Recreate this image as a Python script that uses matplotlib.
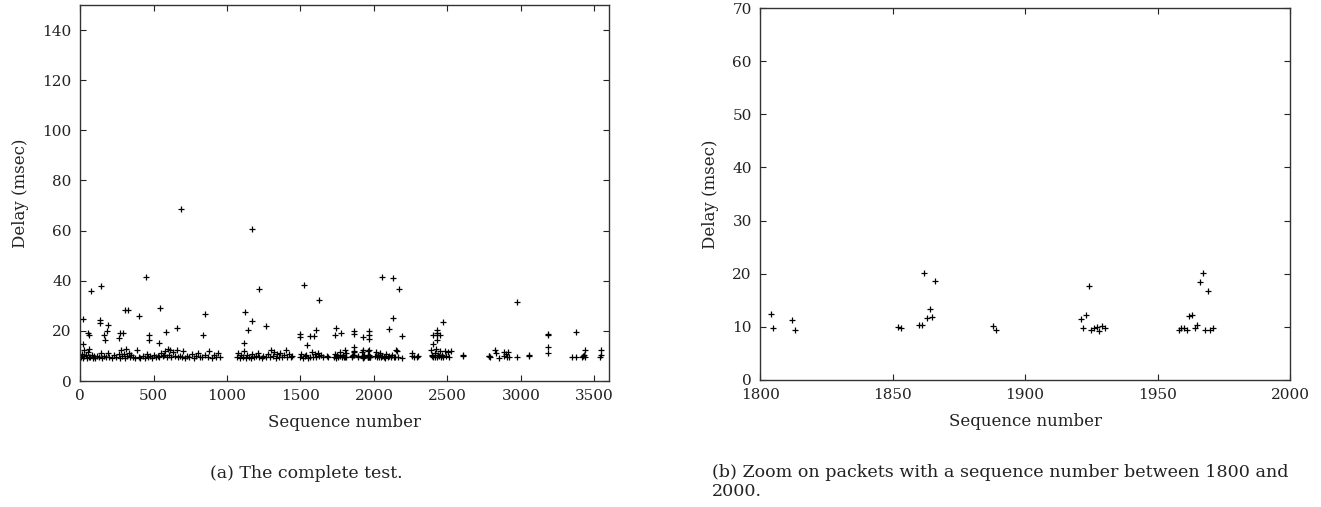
import matplotlib
matplotlib.use("Agg")
import matplotlib.pyplot as plt
import numpy as np

plt.rcParams['font.family'] = ['DejaVu Serif']

# packets forming the low band (~9-13 msec), outside 1800-2000
band_seq = [5, 12, 18, 25, 30, 38, 45, 52, 58, 64, 70, 78, 86, 95, 104, 118, 130, 142, 150, 165,
            178, 190, 200, 215, 232, 248, 262, 270, 280, 288, 296, 305, 312, 320, 330, 338, 348, 360,
            372, 385, 398, 410, 425, 440, 455, 465, 478, 490, 502, 515, 528, 540, 552, 562, 572, 580,
            590, 598, 606, 614, 622, 632, 645, 658, 668, 680, 692, 700, 712, 728, 742, 760, 775, 790,
            802, 818, 832, 850, 868, 880, 895, 910, 925, 940, 955,
            1065, 1075, 1085, 1098, 1108, 1118, 1128, 1138, 1150, 1160, 1172, 1182, 1195, 1208, 1220,
            1235, 1248, 1262, 1278, 1290, 1302, 1312, 1322, 1332, 1342, 1352, 1362, 1372, 1385, 1398,
            1408, 1420, 1432, 1445,
            1495, 1505, 1515, 1528, 1540, 1552, 1565, 1578, 1588, 1598, 1608, 1618, 1628, 1640, 1655,
            1677, 1690,
            1728, 1735, 1742, 1750, 1758, 1766, 1772, 1780, 1788, 1795,
            2005, 2012, 2020, 2028, 2035, 2042, 2050, 2058, 2066, 2075, 2085, 2095, 2105, 2115, 2125,
            2135, 2142, 2158, 2165, 2191, 2257, 2262, 2270, 2293, 2300,
            2385, 2392, 2398, 2405, 2412, 2418, 2425, 2432, 2438, 2444, 2450, 2456, 2464, 2472, 2480,
            2490, 2504, 2510, 2522,
            2605, 2607, 2780, 2785, 2792, 2823, 2830, 2849, 2882, 2887, 2895, 2905, 2914, 2916, 2973,
            3055, 3058, 3347, 3376, 3415, 3422, 3430, 3438, 3541, 3546, 3548]
band_delay = [9.6, 10.8, 9.2, 12.4, 9.9, 10.5, 9.3, 11.6, 9.7, 12.8, 9.4, 10.2, 9.1, 9.8, 9.3, 10.1, 9.5, 11.2, 9.2, 9.9,
              9.4, 11.1, 9.6, 9.3, 10.4, 9.5, 10.9, 9.2, 12.3, 9.8, 10.6, 9.3, 12.6, 9.9, 11.0, 9.4, 10.2, 9.5,
              9.2, 12.4, 9.6, 9.1, 9.8, 9.3, 10.7, 9.5, 9.9, 9.2, 10.4, 9.6, 10.1, 9.4, 11.2, 9.8, 10.5, 12.1,
              9.6, 12.8, 10.3, 12.5, 9.5, 11.4, 9.9, 12.2, 9.4, 10.1, 9.6, 11.8, 9.3, 9.9, 9.5, 10.6, 9.2, 10.1,
              11.3, 9.6, 9.4, 10.2, 9.5, 11.9, 9.3, 10.4, 9.6, 11.2, 9.7,
              9.5, 11.1, 9.2, 10.4, 9.7, 12.0, 9.3, 10.2, 9.6, 9.1, 10.8, 9.4, 9.9, 11.3, 9.5,
              9.2, 10.1, 9.6, 10.9, 9.4, 12.2, 9.8, 11.5, 9.3, 10.6, 9.5, 11.0, 9.7, 10.2, 12.5,
              9.4, 10.8, 9.6, 9.9,
              9.6, 10.8, 9.3, 9.9, 10.4, 9.2, 9.7, 11.4, 9.4, 10.6, 9.5, 11.1, 9.8, 10.2, 9.4,
              9.8, 9.6,
              9.7, 10.9, 9.3, 10.2, 9.5, 11.6, 9.8, 9.4, 10.5, 9.6,
              9.8, 11.6, 9.4, 10.5, 9.6, 11.2, 9.7, 10.1, 9.5, 9.2, 10.6, 9.6, 9.8, 9.4, 10.2,
              9.7, 9.5, 11.8, 9.6, 9.0, 11.0, 9.8, 9.6, 9.5, 9.8,
              12.2, 9.8, 10.5, 9.4, 11.3, 9.7, 12.6, 9.5, 10.4, 9.8, 11.8, 9.6, 10.2, 9.5, 11.9,
              9.8, 11.7, 9.6, 11.9,
              10.0, 10.4, 9.8, 10.1, 9.6, 12.3, 11.2, 9.0, 9.8, 11.7, 10.6, 9.6, 11.7, 9.7, 9.4,
              9.8, 10.2, 9.5, 9.5, 9.6, 9.9, 10.2, 9.7, 9.7, 10.2, 12.3]

# delayed packets (spikes above the band), outside 1800-2000
spike_seq = [18, 23, 57, 63, 73, 134, 134, 140, 163, 172, 186, 190, 267, 272, 290, 308, 326, 399,
             446, 467, 467, 539, 542, 585, 659, 687, 836, 847, 1113, 1122, 1142, 1169, 1172, 1215,
             1264, 1500, 1500, 1523, 1543, 1564, 1591, 1604, 1629, 1734, 1741, 1776, 2055, 2105,
             2130, 2132, 2153, 2173, 2191, 2401, 2402, 2427, 2430, 2432, 2432, 2448, 2470, 2973,
             3184, 3184, 3184, 3184, 3378, 3433]
spike_delay = [24.7, 14.7, 19.0, 18.3, 36.0, 24.5, 23.0, 38.0, 18.3, 16.3, 20.0, 22.3, 17.0, 19.0,
               19.2, 28.4, 28.4, 26.1, 41.4, 18.4, 16.2, 15.1, 29.0, 19.4, 21.2, 68.7, 18.2, 26.9,
               15.3, 27.7, 20.3, 60.5, 23.9, 36.8, 21.8, 18.7, 17.4, 38.5, 14.3, 18.0, 18.0, 20.4,
               32.5, 18.3, 21.0, 19.1, 41.4, 20.8, 41.0, 25.0, 12.3, 36.8, 18.0, 18.3, 14.7, 16.3,
               20.3, 18.3, 19.2, 18.3, 23.4, 31.6, 18.5, 18.8, 13.4, 11.0, 19.4, 12.3]

# packets with sequence number between 1800 and 2000 (zoomed view)
zoom_seq = [1804, 1805, 1812, 1813, 1852, 1853, 1860, 1861, 1862, 1863, 1864, 1865, 1866, 1888, 1889,
            1921, 1922, 1923, 1924, 1925, 1926, 1927, 1928, 1929, 1930,
            1958, 1959, 1960, 1961, 1962, 1963, 1964, 1965, 1966, 1967, 1968, 1969, 1970, 1971]
zoom_delay = [12.4, 9.7, 11.3, 9.5, 9.9, 9.7, 10.3, 10.3, 20.1, 11.6, 13.4, 11.8, 18.7, 10.1, 9.5,
              11.4, 9.7, 12.2, 17.7, 9.5, 9.7, 9.9, 9.3, 10.2, 9.7,
              9.5, 9.7, 9.8, 9.5, 12.0, 12.3, 9.8, 10.4, 18.5, 20.1, 9.5, 16.7, 9.5, 9.7]

seq = np.array(band_seq + spike_seq + zoom_seq)
delay = np.array(band_delay + spike_delay + zoom_delay)

fig = plt.figure(figsize=(13.21, 5.07), dpi=100)
ax1 = fig.add_axes([0.0606, 0.2485, 0.4005, 0.7416])
ax2 = fig.add_axes([0.5755, 0.2505, 0.4010, 0.7337])

for ax in (ax1, ax2):
    ax.plot(seq, delay, '+', color='black', markersize=4.8, markeredgewidth=0.9)
    ax.tick_params(direction='in', top=True, right=True, length=4, width=0.8,
                   labelsize=11, pad=6, colors='#222222')
    for s in ax.spines.values():
        s.set_linewidth(1.0)
        s.set_color('#333333')
    ax.set_xlabel('Sequence number', fontsize=12, color='#222222', labelpad=8)
    ax.set_ylabel('Delay (msec)', fontsize=12, color='#222222', labelpad=10)

ax1.set_xlim(0, 3600)
ax1.set_ylim(0, 150)
ax1.set_xticks([0, 500, 1000, 1500, 2000, 2500, 3000, 3500])
ax1.set_yticks(range(0, 141, 20))

ax2.set_xlim(1800, 2000)
ax2.set_ylim(0, 70)
ax2.set_xticks([1800, 1850, 1900, 1950, 2000])
ax2.set_yticks(range(0, 71, 10))

fig.text(306 / 1321, 1 - 473 / 507, '(a) The complete test.', fontsize=12.5,
         ha='center', va='center', color='#222222')
fig.text(712 / 1321, 1 - 482 / 507,
         '(b) Zoom on packets with a sequence number between 1800 and\n2000.',
         fontsize=12.6, ha='left', va='center', color='#222222', linespacing=1.15)

fig.savefig('out.png', dpi=100)
